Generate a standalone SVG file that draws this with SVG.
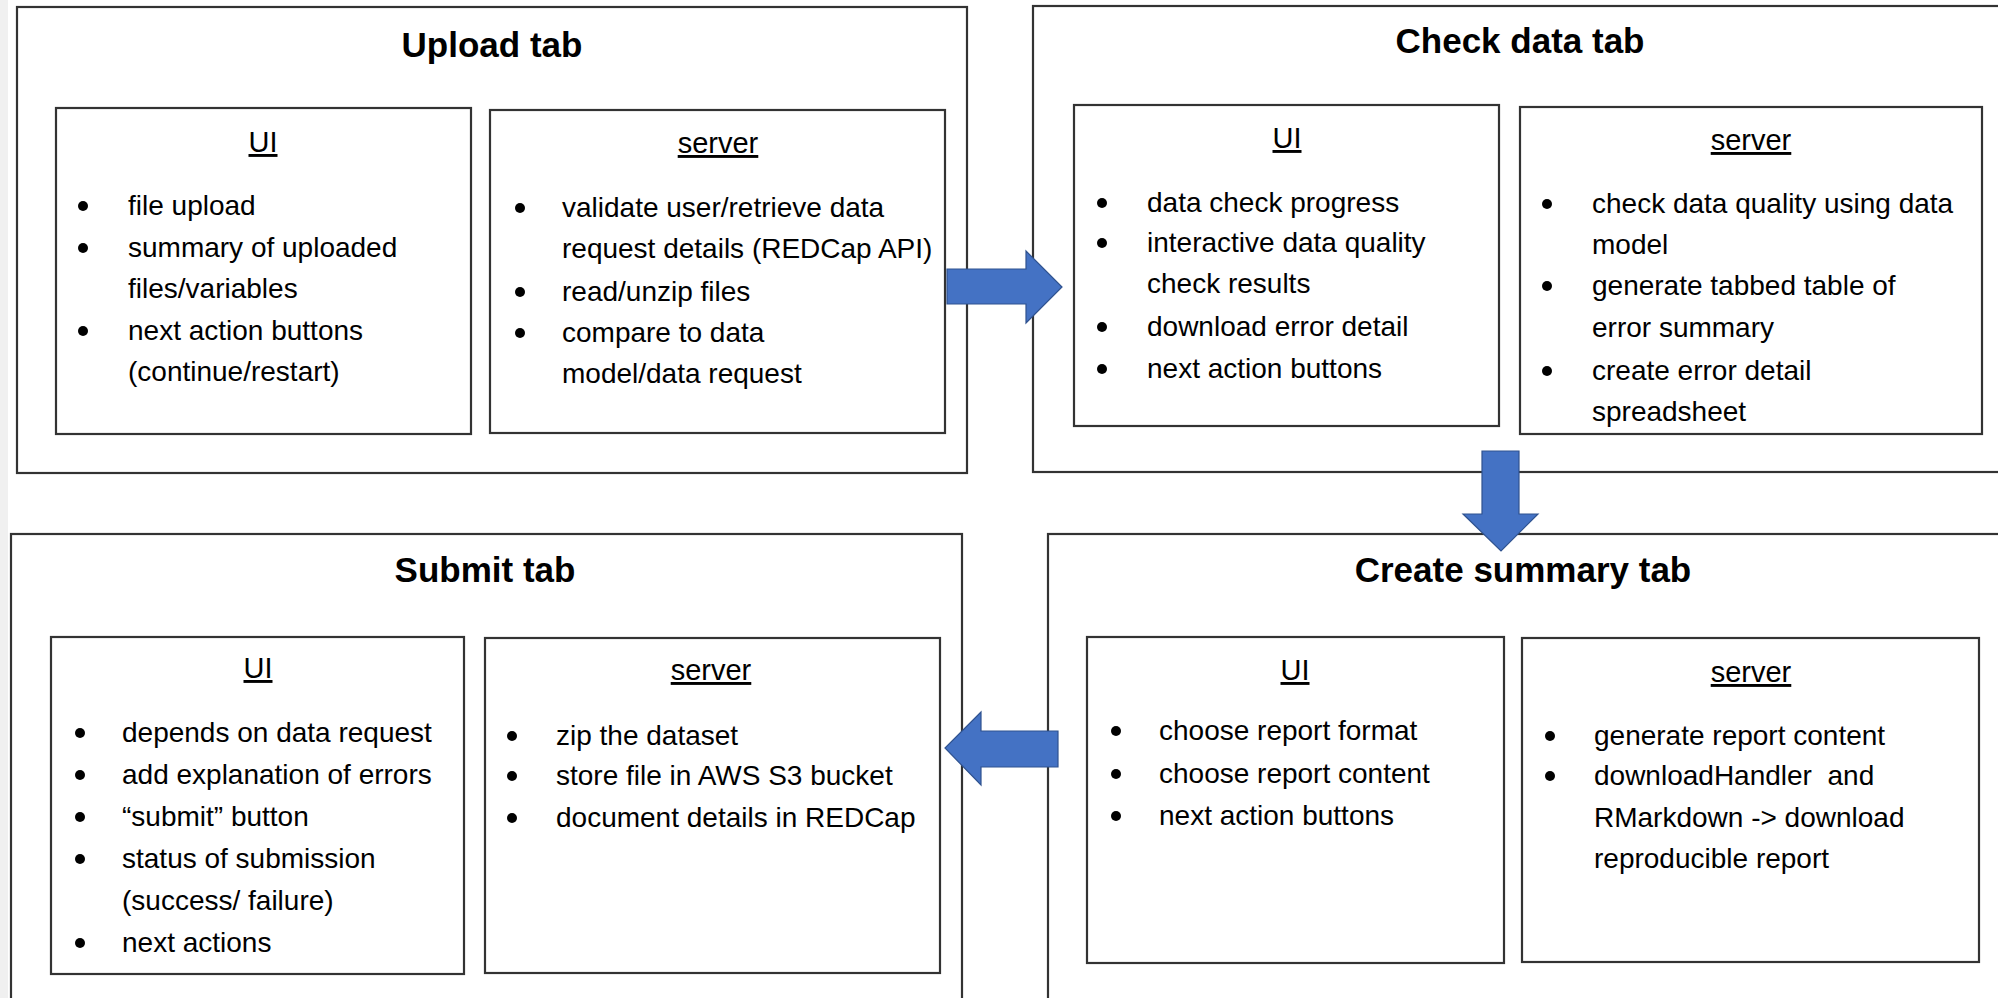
<svg xmlns="http://www.w3.org/2000/svg" width="1998" height="998" viewBox="0 0 1998 998">
<style>
.box{fill:none;stroke:#333;stroke-width:2.2}
.outer{fill:#fff;stroke:#333;stroke-width:2.2}
.title{font-family:"Liberation Sans",Arial,sans-serif;font-weight:bold;font-size:35px;fill:#000;text-anchor:middle}
.lbl{font-family:"Liberation Sans",Arial,sans-serif;font-size:29px;fill:#000;text-anchor:middle;text-decoration:underline}
.t{font-family:"Liberation Sans",Arial,sans-serif;font-size:28px;fill:#000}
.dot{fill:#000}
.arrow{fill:#4472C4;stroke:#2F528F;stroke-width:1.2}
</style>
<rect x="0" y="0" width="1998" height="998" fill="#fff"/>
<rect x="0" y="0" width="8" height="998" fill="#f0f0f0"/>

<g id="upload-tab">
<rect class="outer" x="17" y="7" width="950" height="466"/>
<text class="title" x="492" y="57">Upload tab</text>
<g id="upload-ui">
<rect class="box" x="56" y="108" width="415" height="326"/>
<text class="lbl" x="263" y="152">UI</text>
<circle class="dot" cx="83" cy="206" r="5"/><text class="t" x="128" y="215">file upload</text>
<circle class="dot" cx="83" cy="248" r="5"/><text class="t" x="128" y="257">summary of uploaded</text>
<text class="t" x="128" y="298">files/variables</text>
<circle class="dot" cx="83" cy="331" r="5"/><text class="t" x="128" y="340">next action buttons</text>
<text class="t" x="128" y="381">(continue/restart)</text>
</g>
<g id="upload-server">
<rect class="box" x="490" y="110" width="455" height="323"/>
<text class="lbl" x="718" y="153">server</text>
<circle class="dot" cx="520" cy="208" r="5"/><text class="t" x="562" y="217">validate user/retrieve data</text>
<text class="t" x="562" y="258">request details (REDCap API)</text>
<circle class="dot" cx="520" cy="292" r="5"/><text class="t" x="562" y="301">read/unzip files</text>
<circle class="dot" cx="520" cy="333" r="5"/><text class="t" x="562" y="342">compare to data</text>
<text class="t" x="562" y="383">model/data request</text>
</g>
</g>

<g id="check-data-tab">
<rect class="outer" x="1033" y="6" width="980" height="466"/>
<text class="title" x="1520" y="53">Check data tab</text>
<g id="check-ui">
<rect class="box" x="1074" y="105" width="425" height="321"/>
<text class="lbl" x="1287" y="148">UI</text>
<circle class="dot" cx="1102" cy="203" r="5"/><text class="t" x="1147" y="212">data check progress</text>
<circle class="dot" cx="1102" cy="243" r="5"/><text class="t" x="1147" y="252">interactive data quality</text>
<text class="t" x="1147" y="293">check results</text>
<circle class="dot" cx="1102" cy="327" r="5"/><text class="t" x="1147" y="336">download error detail</text>
<circle class="dot" cx="1102" cy="369" r="5"/><text class="t" x="1147" y="378">next action buttons</text>
</g>
<g id="check-server">
<rect class="box" x="1520" y="107" width="462" height="327"/>
<text class="lbl" x="1751" y="150">server</text>
<circle class="dot" cx="1547" cy="204" r="5"/><text class="t" x="1592" y="213">check data quality using data</text>
<text class="t" x="1592" y="254">model</text>
<circle class="dot" cx="1547" cy="286" r="5"/><text class="t" x="1592" y="295">generate tabbed table of</text>
<text class="t" x="1592" y="337">error summary</text>
<circle class="dot" cx="1547" cy="371" r="5"/><text class="t" x="1592" y="380">create error detail</text>
<text class="t" x="1592" y="421">spreadsheet</text>
</g>
</g>

<g id="submit-tab">
<rect class="outer" x="11" y="534" width="951" height="480"/>
<text class="title" x="485" y="582">Submit tab</text>
<g id="submit-ui">
<rect class="box" x="51" y="637" width="413" height="337"/>
<text class="lbl" x="258" y="678">UI</text>
<circle class="dot" cx="80" cy="733" r="5"/><text class="t" x="122" y="742">depends on data request</text>
<circle class="dot" cx="80" cy="775" r="5"/><text class="t" x="122" y="784">add explanation of errors</text>
<circle class="dot" cx="80" cy="817" r="5"/><text class="t" x="122" y="826">“submit” button</text>
<circle class="dot" cx="80" cy="859" r="5"/><text class="t" x="122" y="868">status of submission</text>
<text class="t" x="122" y="910">(success/ failure)</text>
<circle class="dot" cx="80" cy="943" r="5"/><text class="t" x="122" y="952">next actions</text>
</g>
<g id="submit-server">
<rect class="box" x="485" y="638" width="455" height="335"/>
<text class="lbl" x="711" y="680">server</text>
<circle class="dot" cx="512" cy="736" r="5"/><text class="t" x="556" y="745">zip the dataset</text>
<circle class="dot" cx="512" cy="776" r="5"/><text class="t" x="556" y="785">store file in AWS S3 bucket</text>
<circle class="dot" cx="512" cy="818" r="5"/><text class="t" x="556" y="827">document details in REDCap</text>
</g>
</g>

<g id="create-summary-tab">
<rect class="outer" x="1048" y="534" width="965" height="480"/>
<text class="title" x="1523" y="582">Create summary tab</text>
<g id="summary-ui">
<rect class="box" x="1087" y="637" width="417" height="326"/>
<text class="lbl" x="1295" y="680">UI</text>
<circle class="dot" cx="1116" cy="731" r="5"/><text class="t" x="1159" y="740">choose report format</text>
<circle class="dot" cx="1116" cy="774" r="5"/><text class="t" x="1159" y="783">choose report content</text>
<circle class="dot" cx="1116" cy="816" r="5"/><text class="t" x="1159" y="825">next action buttons</text>
</g>
<g id="summary-server">
<rect class="box" x="1522" y="638" width="457" height="324"/>
<text class="lbl" x="1751" y="682">server</text>
<circle class="dot" cx="1550" cy="736" r="5"/><text class="t" x="1594" y="745">generate report content</text>
<circle class="dot" cx="1550" cy="776" r="5"/><text class="t" x="1594" y="785" xml:space="preserve">downloadHandler  and</text>
<text class="t" x="1594" y="827">RMarkdown -&gt; download</text>
<text class="t" x="1594" y="868">reproducible report</text>
</g>
</g>

<g id="connectors">
<path class="arrow" d="M947,269 H1026 V251 L1062,287 L1026,323 V304 H947 Z"/>
<path class="arrow" d="M1482,451 H1519 V514 H1538 L1501,551 L1463,514 H1482 Z"/>
<path class="arrow" d="M1058,731 H981 V712 L945,748 L981,785 V767 H1058 Z"/>
</g>
</svg>
